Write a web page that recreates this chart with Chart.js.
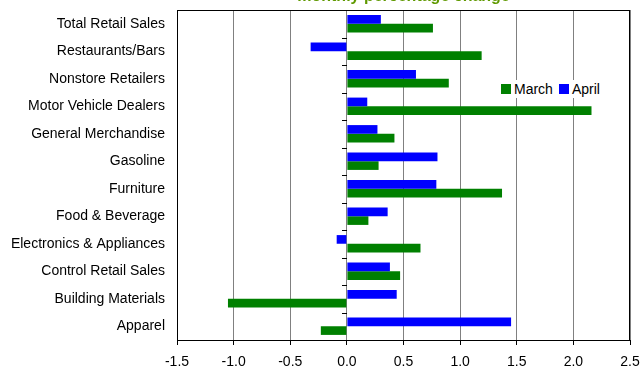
<!DOCTYPE html>
<html>
<head>
<meta charset="utf-8">
<script src="https://cdn.jsdelivr.net/npm/chart.js@4/dist/chart.umd.min.js"></script>
<style>
  html, body { margin: 0; padding: 0; background: #fff; }
  #wrap { position: relative; width: 640px; height: 369px; }
  #legend { position: absolute; left: 497px; top: 80px; height: 18px; background: #fff;
    font: 14px "Liberation Sans", Arial, sans-serif; color: #000; display: flex; align-items: center; padding: 0 4px; white-space: nowrap; }
  #legend .item { display: flex; align-items: center; margin-right: 6px; }
  #legend .item:last-child { margin-right: 0; }
  #legend .sw { width: 10px; height: 10px; margin-right: 3px; display: inline-block; }
</style>
</head>
<body>
<div id="wrap">
  <canvas id="c" width="640" height="369"></canvas>
  <div id="legend"></div>
</div>
<script>
const titleText = 'monthly percentage change';
const categories = ['Total Retail Sales', 'Restaurants/Bars', 'Nonstore Retailers', 'Motor Vehicle Dealers',
  'General Merchandise', 'Gasoline', 'Furniture', 'Food & Beverage', 'Electronics & Appliances',
  'Control Retail Sales', 'Building Materials', 'Apparel'];
const marchValues = [0.76, 1.19, 0.90, 2.16, 0.42, 0.28, 1.37, 0.19, 0.65, 0.47, -1.05, -0.23];
const aprilValues = [0.30, -0.32, 0.61, 0.18, 0.27, 0.80, 0.79, 0.36, -0.09, 0.38, 0.44, 1.45];
const seriesNames = ['March', 'April'];
const xMin = -1.5, xMax = 2.5, xStep = 0.5;

const FONT = '"Liberation Sans", Arial, sans-serif';

const frame = {
  id: 'frame',
  afterLayout(chart) {
    const t = chart.titleBlock;
    if (t) { t.top -= 8; t.bottom -= 8; }
  },
  afterDraw(chart) {
    const { ctx, chartArea: a, scales } = chart;
    ctx.save();
    ctx.strokeStyle = '#000';
    ctx.lineWidth = 1;
    ctx.strokeRect(Math.round(a.left) + 0.5, Math.round(a.top) + 0.5,
      Math.round(a.right - a.left) - 1, Math.round(a.bottom - a.top));
    const x0 = Math.round(scales.x.getPixelForValue(0));
    const ys = scales.y;
    ctx.beginPath();
    for (let i = 1; i < categories.length; i++) {
      const y = Math.round((ys.getPixelForValue(i - 1) + ys.getPixelForValue(i)) / 2) + 0.5;
      ctx.moveTo(x0 - 5, y);
      ctx.lineTo(x0, y);
    }
    ctx.stroke();
    ctx.restore();
  }
};

const chart = new Chart(document.getElementById('c'), {
  type: 'bar',
  data: {
    labels: categories,
    datasets: [
      { label: seriesNames[1], data: aprilValues, backgroundColor: '#0000ff', borderWidth: 0 },
      { label: seriesNames[0], data: marchValues, backgroundColor: '#008000', borderWidth: 0 }
    ]
  },
  options: {
    indexAxis: 'y',
    responsive: false,
    animation: false,
    devicePixelRatio: 1,
    categoryPercentage: 0.63,
    barPercentage: 1.0,
    layout: { padding: { top: 0, left: 0, right: 10, bottom: 0 } },
    plugins: {
      legend: { display: false },
      tooltip: { enabled: false },
      title: {
        display: true,
        text: titleText,
        fullSize: false,
        color: '#5f9900',
        font: { family: FONT, size: 16, weight: 'bold', lineHeight: 0.625 },
        padding: { top: 0, bottom: 0 }
      }
    },
    scales: {
      x: {
        type: 'linear',
        min: xMin, max: xMax,
        ticks: {
          stepSize: xStep,
          color: '#000',
          font: { family: FONT, size: 14 },
          padding: 9,
          maxRotation: 0,
          callback: v => Number(v).toFixed(1)
        },
        grid: { color: '#808080', lineWidth: 1, tickLength: 5, tickColor: '#000', drawOnChartArea: true },
        border: { display: true, color: '#000', width: 1 },
        afterFit: s => { s.height = 29; s.paddingRight = 10; s.paddingLeft = 0; }
      },
      y: {
        type: 'category',
        ticks: { color: '#000', font: { family: FONT, size: 14 }, padding: 12, autoSkip: false },
        grid: { display: false, drawTicks: false },
        border: { display: true, color: '#000' },
        afterFit: s => { s.width = 177; s.paddingTop = 0; s.paddingBottom = 0; }
      }
    }
  },
  plugins: [frame]
});

const legendEl = document.getElementById('legend');
[1, 0].forEach(i => {
  const ds = chart.data.datasets[i];
  const item = document.createElement('span');
  item.className = 'item';
  const sw = document.createElement('span');
  sw.className = 'sw';
  sw.style.background = ds.backgroundColor;
  item.appendChild(sw);
  item.appendChild(document.createTextNode(ds.label));
  legendEl.appendChild(item);
});
</script>
</body>
</html>
